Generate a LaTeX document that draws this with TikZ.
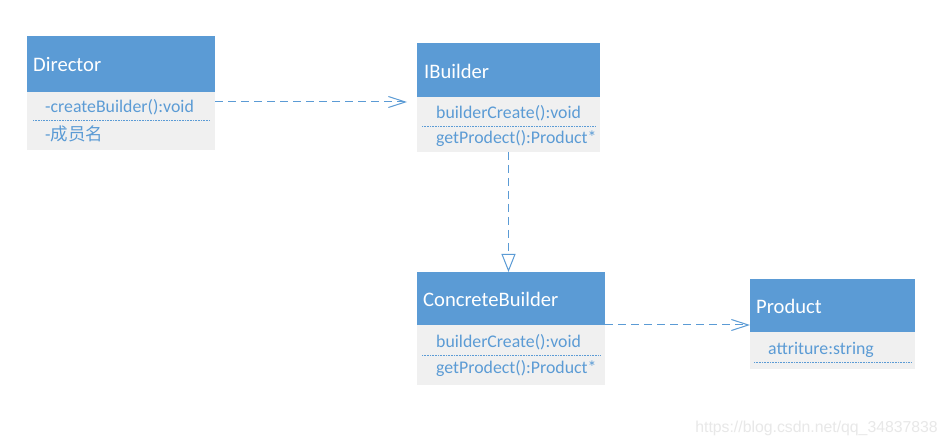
\documentclass[tikz,border=0pt]{standalone}
\usepackage{fontspec}
\setmainfont{Carlito}
\newfontfamily\cjk{Noto Sans CJK SC}
\newfontfamily\wmfont{Liberation Sans}
\usetikzlibrary{arrows.meta,calc}
\definecolor{hdrblue}{HTML}{5B9BD5}
\definecolor{bodygray}{HTML}{F0F0F0}
\definecolor{txtblue}{HTML}{5B9BD5}
\definecolor{wmgray}{HTML}{E8E8E8}
\tikzset{
  hdr/.style={draw=none,fill=hdrblue,anchor=north west,inner sep=0pt,outer sep=0pt},
  bdy/.style={draw=none,fill=bodygray,anchor=north west,inner sep=0pt,outer sep=0pt},
  htext/.style={anchor=west,inner sep=0pt,text=white,font=\fontsize{20.6}{22}\selectfont},
  mtext/.style={anchor=west,inner sep=0pt,text=txtblue,font=\fontsize{17.8}{20}\selectfont},
  sep/.style={draw=txtblue,line width=0.8pt,dash pattern=on 0.8pt off 0.8pt},
  dep/.style={draw=hdrblue,line width=1pt,dash pattern=on 8pt off 5pt},
  barb/.style={-{Straight Barb[length=17pt,width=11pt,line width=1pt]}},
  realize/.style={-{Triangle[open,length=18pt,width=14pt,line width=1pt]}}
}
\begin{document}
\begin{tikzpicture}[x=1pt,y=-1pt]
\useasboundingbox[fill=white] (0,0) rectangle (948,446);
% Director
\node[hdr,minimum width=188pt,minimum height=56pt] (dirhead) at (27,36) {};
\node[bdy,minimum width=188pt,minimum height=58pt] (dirbody) at (27,92) {};
\node[htext] (dirname) at (33,64) {Director};
\node[mtext] (dirm1) at (45,107) {-createBuilder():void};
\node[mtext] (dirm2) at (45,134) {-{\cjk\fontsize{17.5}{19}\selectfont 成员名}};
\draw[sep] (33,120) -- (210,120);
% IBuilder
\node[hdr,minimum width=183pt,minimum height=54pt] (ibhead) at (417,43) {};
\node[bdy,minimum width=183pt,minimum height=55pt] (ibbody) at (417,97) {};
\node[htext] (ibname) at (424,71) {IBuilder};
\node[mtext] (ibm1) at (436,113) {builderCreate():void};
\node[mtext] (ibm2) at (436,139) {getProdect():Product*};
\draw[sep] (422,126) -- (596,126);
% ConcreteBuilder
\node[hdr,minimum width=188pt,minimum height=53pt] (cbhead) at (417,272) {};
\node[bdy,minimum width=188pt,minimum height=60pt] (cbbody) at (417,325) {};
\node[htext] (cbname) at (423,299) {ConcreteBuilder};
\node[mtext] (cbm1) at (436,342) {builderCreate():void};
\node[mtext] (cbm2) at (436,369) {getProdect():Product*};
\draw[sep] (422,355) -- (601,355);
% Product
\node[hdr,minimum width=165pt,minimum height=53pt] (prhead) at (750,279) {};
\node[bdy,minimum width=165pt,minimum height=37pt] (prbody) at (750,332) {};
\node[htext] (prname) at (756,306) {Product};
\node[mtext] (prm1) at (768,350) {attriture:string};
\draw[sep] (754,362) -- (912,362);
% connectors
\draw[dep,barb,shorten >=10pt] ([yshift=-10pt]dirbody.north east) -- ([yshift=-10pt]dirbody.north east -| ibbody.west);
\draw[dep,realize] (ibbody.south) -- (ibbody.south |- cbhead.north);
\draw[dep,barb] (cbhead.south east) -- (cbhead.south east -| prhead.west);
% watermark
\node[anchor=east,inner sep=0pt,text=wmgray,font=\wmfont\fontsize{15.8}{18}\selectfont] (wm) at (938,428) {https://blog.csdn.net/qq\_34837838};
\end{tikzpicture}
\end{document}
